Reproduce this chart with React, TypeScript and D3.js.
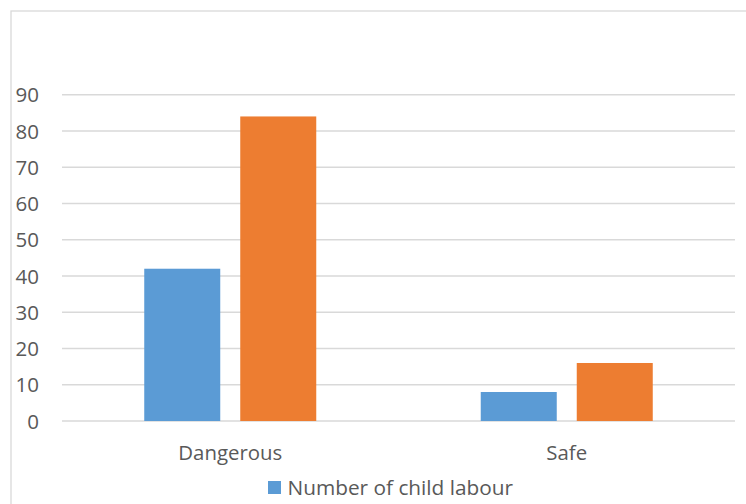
import React from "react";
import * as d3 from "d3";

const categories = ["Dangerous", "Safe"];
const seriesNames = ["Number of child labour", ""];
const childLabour = [42, 8];
const secondSeries = [84, 16];
const yTicks = [0, 10, 20, 30, 40, 50, 60, 70, 80, 90];
const colors = ["#5b9bd5", "#ed7d31"];

const W = 746;
const H = 504;
const FONT = "'Open Sans', 'Liberation Sans', sans-serif";
const TEXT = "#595959";
const GRID = "#d9d9d9";

export default function App() {
  const plotLeft = 62;
  const plotRight = 735;
  const plotTop = 94.7;
  const plotBottom = 421;

  const y = d3.scaleLinear().domain([0, 90]).range([plotBottom, plotTop]);
  const x0 = d3.scaleBand<string>().domain(categories).range([plotLeft, plotRight]).padding(0);
  const x1 = d3
    .scaleBand<string>()
    .domain(["0", "1"])
    .range([0, x0.bandwidth()])
    .paddingInner(20 / 96)
    .paddingOuter(0.8567);

  const series = [childLabour, secondSeries];
  const legendItems = seriesNames
    .map((name, i) => ({ name, color: colors[i] }))
    .filter((d) => d.name !== "");

  return (
    <svg
      width={W}
      height={H}
      style={{ position: "absolute", left: 0, top: 0, background: "#fff" }}
      fontFamily={FONT}
    >
      <rect x={0} y={0} width={W} height={H} fill="#fff" />
      {/* chart frame */}
      <rect x={11} y={11} width={W + 20} height={H + 20} fill="none" stroke={GRID} strokeWidth={1.3} />

      {/* gridlines and y tick labels */}
      {yTicks.map((t) => (
        <g key={t}>
          <line x1={plotLeft} x2={plotRight} y1={y(t)} y2={y(t)} stroke={GRID} strokeWidth={1.4} />
          <text x={39} y={y(t)} dy="0.37em" textAnchor="end" fontSize={20.5} fill={TEXT}>
            {t}
          </text>
        </g>
      ))}

      {/* bars */}
      {categories.map((c, ci) => (
        <g key={c} transform={`translate(${x0(c)},0)`}>
          {series.map((vals, si) => (
            <rect
              key={si}
              x={x1(String(si))}
              y={y(vals[ci])}
              width={x1.bandwidth()}
              height={y(0) - y(vals[ci])}
              fill={colors[si]}
            />
          ))}
        </g>
      ))}

      {/* category labels */}
      {categories.map((c) => (
        <text
          key={c}
          x={(x0(c) ?? 0) + x0.bandwidth() / 2}
          y={459.5}
          textAnchor="middle"
          fontSize={20.4}
          fill={TEXT}
        >
          {c}
        </text>
      ))}

      {/* legend */}
      {legendItems.map((d) => (
        <g key={d.name}>
          <rect x={268} y={481} width={13} height={13} fill={d.color} />
          <text x={287.5} y={494.5} fontSize={20.8} fill={TEXT}>
            {d.name}
          </text>
        </g>
      ))}
    </svg>
  );
}
